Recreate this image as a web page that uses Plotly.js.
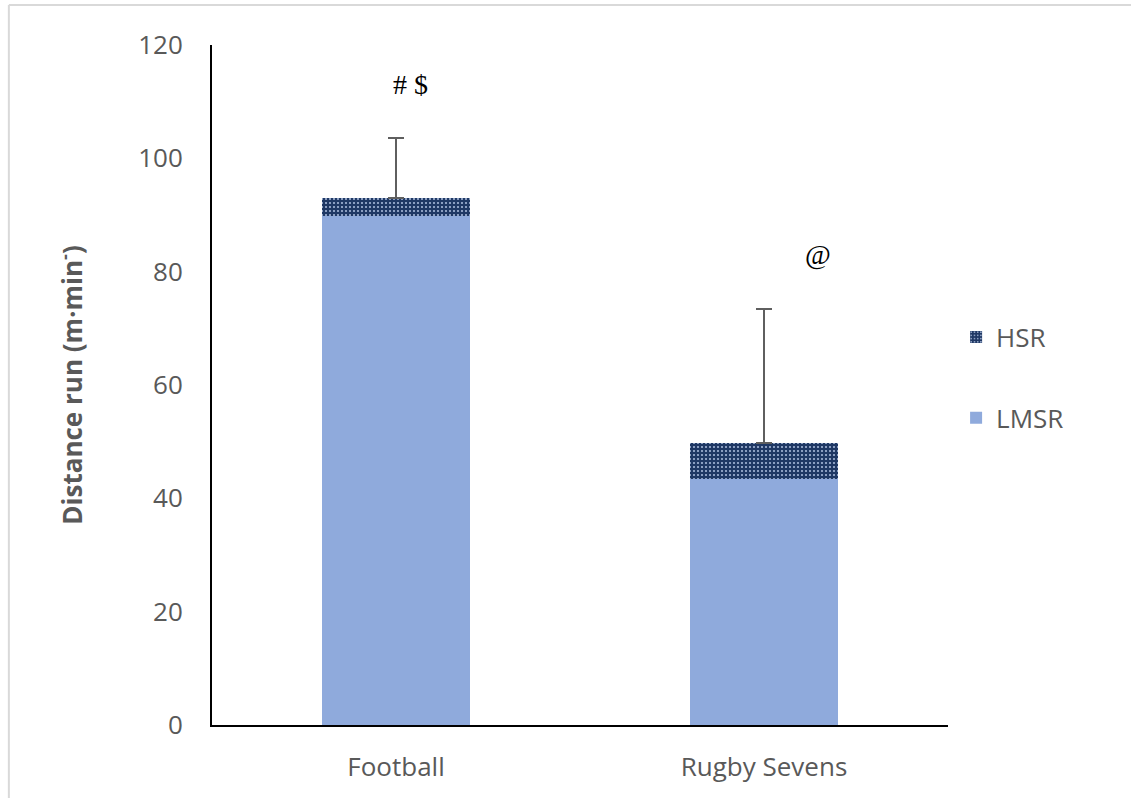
<!DOCTYPE html>
<html>
<head>
<meta charset="utf-8">
<script src="https://cdn.plot.ly/plotly-3.0.1.min.js"></script>
<style>
  html, body { margin: 0; padding: 0; background: #fff; }
  #chart { width: 1131px; height: 798px; }
</style>
</head>
<body>
<div id="chart"></div>
<script>
// Running distance per minute, split into low/moderate-speed and high-speed running
const categories = ['Football', 'Rugby Sevens'];
const lmsrValues = [89.8, 43.4];
const hsrValues = [3.2, 6.4];
const totalSD = [10.6, 23.6];
const markLabels = ['# $', '@'];
const markHeights = [113, 83];
const markShifts = [14, 54];
const yTicks = [0, 20, 40, 60, 80, 100, 120];

const labelFont = { family: 'Open Sans, sans-serif', size: 26, color: '#595959' };

const traces = [
  {
    type: 'bar',
    name: 'LMSR',
    x: categories,
    y: lmsrValues,
    width: 0.4,
    legendgroup: 'lmsr',
    legendrank: 2,
    marker: { color: '#8faadc', line: { width: 0 } },
    hoverinfo: 'x+y+name'
  },
  {
    type: 'bar',
    name: 'HSR',
    x: categories,
    y: hsrValues,
    width: 0.4,
    legendgroup: 'hsr',
    legendrank: 1,
    marker: {
      color: '#1f3864',
      line: { width: 0 },
      pattern: { shape: '.', fgcolor: '#a6b8d8', bgcolor: '#1f3864', size: 4, solidity: 0.22 }
    },
    error_y: {
      type: 'data',
      symmetric: false,
      array: totalSD,
      arrayminus: [0, 0],
      color: '#5f5f5f',
      thickness: 2,
      width: 8
    },
    hoverinfo: 'x+y+name'
  }
];

const annotations = categories.map((c, i) => ({
  x: c,
  y: markHeights[i],
  xref: 'x',
  yref: 'y',
  text: markLabels[i],
  showarrow: false,
  xshift: markShifts[i],
  font: { family: 'Liberation Serif, Times New Roman, serif', size: 28, color: '#000' }
}));

const layout = {
  width: 1131,
  height: 798,
  margin: { l: 212, r: 183, t: 45, b: 73, pad: 0 },
  paper_bgcolor: '#fff',
  plot_bgcolor: '#fff',
  barmode: 'stack',
  showlegend: true,
  legend: {
    x: 1.011,
    xanchor: 'left',
    y: 0.605,
    yanchor: 'top',
    traceorder: 'grouped',
    tracegroupgap: 44,
    font: labelFont,
    bgcolor: 'rgba(0,0,0,0)'
  },
  xaxis: {
    type: 'category',
    showline: true,
    linecolor: '#000',
    linewidth: 2,
    ticks: '',
    ticklabelstandoff: 18,
    tickfont: labelFont,
    showgrid: false,
    zeroline: false,
    fixedrange: true
  },
  yaxis: {
    range: [0, 120],
    tickvals: yTicks,
    ticktext: yTicks.map(String),
    showline: true,
    linecolor: '#000',
    linewidth: 2,
    ticks: '',
    ticklabelstandoff: 22,
    tickfont: labelFont,
    showgrid: false,
    zeroline: false,
    fixedrange: true,
    title: {
      text: 'Distance run (m·min<sup>-</sup>)',
      font: { family: 'Open Sans, sans-serif', size: 26, color: '#595959', weight: 'bold' },
      standoff: 48
    }
  },
  annotations: annotations,
  shapes: [
    { type: 'line', xref: 'paper', yref: 'paper', x0: -0.276, x1: -0.276, y0: -0.11, y1: 1.059,
      line: { color: '#d9d9d9', width: 2 } },
    { type: 'line', xref: 'paper', yref: 'paper', x0: -0.276, x1: 1.25, y0: 1.059, y1: 1.059,
      line: { color: '#d9d9d9', width: 2 } }
  ]
};

Plotly.newPlot('chart', traces, layout, { displayModeBar: false });
</script>
</body>
</html>
